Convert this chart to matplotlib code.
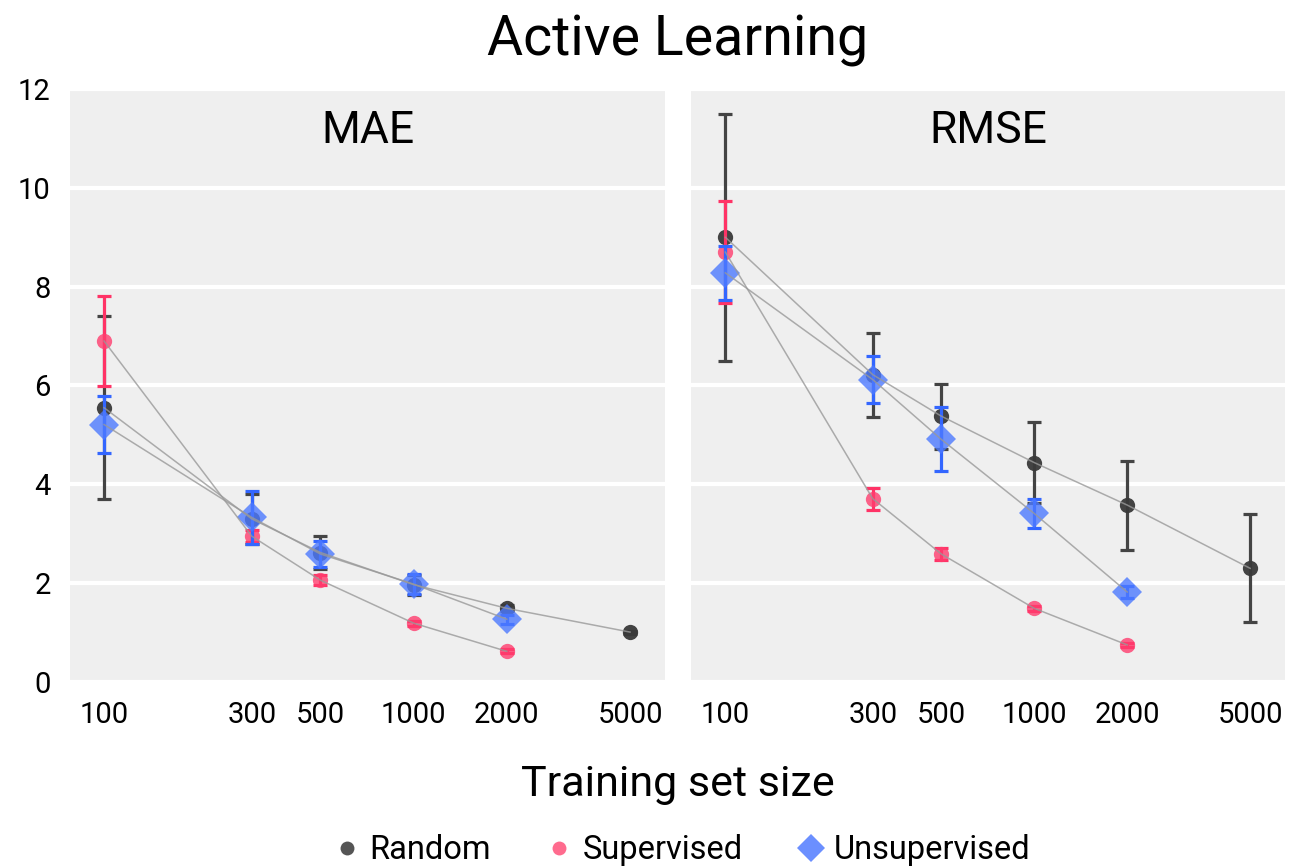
# plot.py
# Active learning: MAE / RMSE vs training set size
import matplotlib
matplotlib.use("Agg")
import matplotlib.pyplot as plt
from matplotlib.lines import Line2D

plt.rcParams['font.family'] = ['Roboto', 'DejaVu Sans']

# =========================
# Data
# =========================
sizes = [100, 300, 500, 1000, 2000, 5000]
sizes_al = [100, 300, 500, 1000, 2000]

random_mae = [5.55, 3.30, 2.62, 1.97, 1.49, 1.01]
random_mae_err = [1.85, 0.50, 0.33, 0.20, 0.06, 0.03]
sup_mae = [6.90, 2.95, 2.06, 1.19, 0.62]
sup_mae_err = [0.92, 0.12, 0.10, 0.05, 0.04]
unsup_mae = [5.21, 3.33, 2.59, 1.98, 1.27]
unsup_mae_err = [0.58, 0.53, 0.27, 0.20, 0.09]

random_rmse = [9.00, 6.22, 5.38, 4.44, 3.58, 2.30]
random_rmse_err = [2.50, 0.85, 0.66, 0.82, 0.90, 1.09]
sup_rmse = [8.70, 3.71, 2.59, 1.49, 0.75]
sup_rmse_err = [1.04, 0.22, 0.12, 0.05, 0.04]
unsup_rmse = [8.28, 6.12, 4.91, 3.41, 1.82]
unsup_rmse_err = [0.54, 0.47, 0.65, 0.29, 0.12]

panels = [
    ("MAE", [(sizes, random_mae, random_mae_err),
             (sizes_al, sup_mae, sup_mae_err),
             (sizes_al, unsup_mae, unsup_mae_err)]),
    ("RMSE", [(sizes, random_rmse, random_rmse_err),
              (sizes_al, sup_rmse, sup_rmse_err),
              (sizes_al, unsup_rmse, unsup_rmse_err)]),
]

# =========================
# Styles
# =========================
err_colors = ["#444444", "#ff3366", "#3366ff"]
marker_colors = ["#3a3a3a", "#ff3d6e", "#4d7aff"]
marker_alpha = [0.95, 0.8, 0.8]
markers = ["o", "o", "D"]
msizes = [11, 11, 15]
labels = ["Random", "Supervised", "Unsupervised"]

fig = plt.figure(figsize=(12.91, 8.66), dpi=100)
ax_left = fig.add_axes([0.0542, 0.2125, 0.4609, 0.6847])
ax_right = fig.add_axes([0.5355, 0.2125, 0.4599, 0.6847], sharey=ax_left)

for ax, (name, series) in zip([ax_left, ax_right], panels):
    ax.set_facecolor("#efefef")
    for sp in ax.spines.values():
        sp.set_visible(False)
    ax.set_xscale("log")
    ax.set_xlim(77.6, 6486)
    ax.set_ylim(0, 12)
    ax.set_yticks([0, 2, 4, 6, 8, 10, 12])
    ax.grid(axis="y", color="white", linewidth=3)
    ax.set_axisbelow(True)
    ax.set_xticks(sizes)
    ax.set_xticklabels([str(s) for s in sizes])
    ax.minorticks_off()
    ax.tick_params(axis="both", length=0, labelsize=21, colors="black")
    ax.tick_params(axis="x", pad=14)
    ax.tick_params(axis="y", pad=14)

    for k, (x, y, e) in enumerate(series):
        ax.errorbar(x, y, yerr=e, fmt="none", ecolor=err_colors[k],
                    elinewidth=2.3, capsize=5, capthick=2.3, zorder=3 + k)
        ax.plot(x, y, linestyle="none", marker=markers[k], ms=msizes[k],
                color=marker_colors[k], alpha=marker_alpha[k],
                markeredgewidth=0, zorder=3 + k)
        ax.plot(x, y, color="#999999", linewidth=1.1, alpha=0.8, zorder=10)

    ax.text(0.5, 0.93, name, transform=ax.transAxes, ha="center", va="center",
            fontsize=32)

ax_right.tick_params(axis="y", labelleft=False)

# =========================
# Titles and legend
# =========================
fig.text(0.525, 0.953, "Active Learning", ha="center", va="center", fontsize=40)
fig.text(0.525, 0.094, "Training set size", ha="center", va="center", fontsize=31)

handles = [
    Line2D([], [], linestyle="none", marker="o", ms=10, color="#555555", markeredgewidth=0),
    Line2D([], [], linestyle="none", marker="o", ms=10, color="#ff6b8e", markeredgewidth=0),
    Line2D([], [], linestyle="none", marker="D", ms=14, color="#6b8fff", markeredgewidth=0),
]
fig.legend(handles, labels, loc="center", bbox_to_anchor=(0.527, 0.018), ncol=3,
           frameon=False, fontsize=23.5, handletextpad=0.2, columnspacing=1.6,
           handlelength=1.0)

fig.savefig("out.png", dpi=100)
